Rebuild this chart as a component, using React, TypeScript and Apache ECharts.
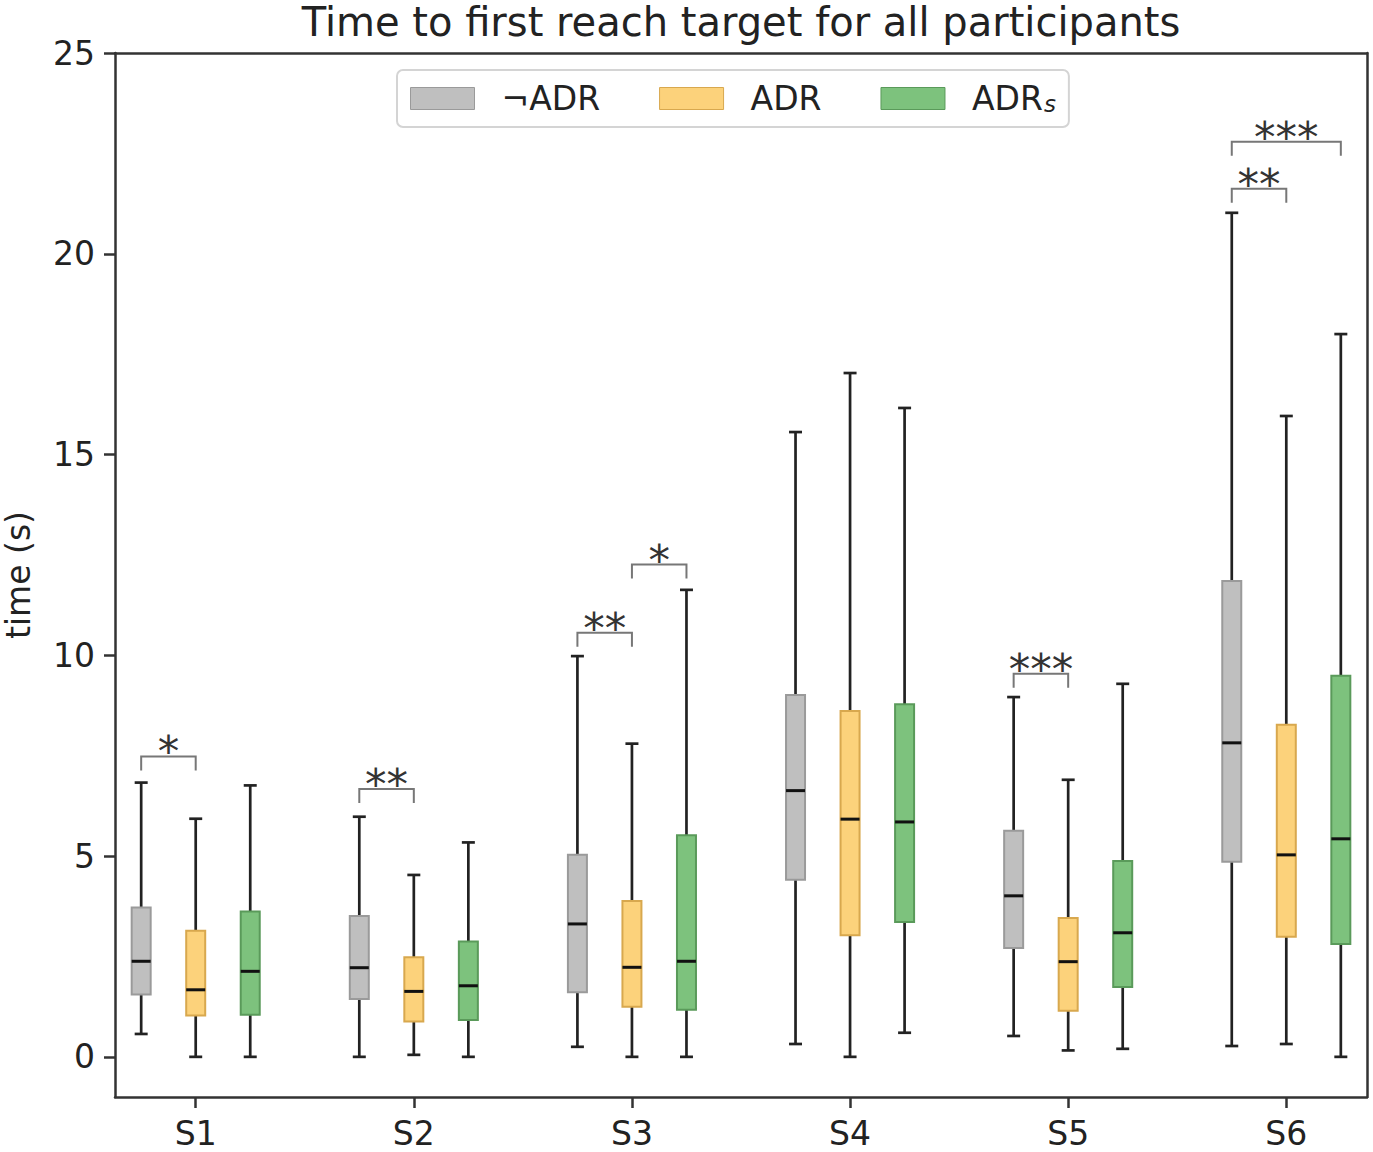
import React, { useEffect, useRef } from "react";
import * as echarts from "echarts";

const categories = ["S1", "S2", "S3", "S4", "S5", "S6"];
const seriesNames = ["¬ADR", "ADR", "ADRs"];
// [min, q1, median, q3, max]
const notADR = [
  [0.57, 1.55, 2.38, 3.72, 6.83],
  [0.0, 1.44, 2.22, 3.51, 5.98],
  [0.25, 1.61, 3.31, 5.03, 9.98],
  [0.32, 4.41, 6.63, 9.01, 15.56],
  [0.52, 2.71, 4.01, 5.63, 8.96],
  [0.27, 4.86, 7.82, 11.85, 21.02],
];
const adr = [
  [0.0, 1.03, 1.67, 3.14, 5.93],
  [0.05, 0.88, 1.63, 2.48, 4.53],
  [0.0, 1.25, 2.23, 3.88, 7.8],
  [0.0, 3.03, 5.92, 8.61, 17.03],
  [0.16, 1.15, 2.37, 3.46, 6.9],
  [0.32, 2.99, 5.03, 8.27, 15.96],
];
const adrS = [
  [0.0, 1.05, 2.13, 3.62, 6.76],
  [0.0, 0.92, 1.77, 2.87, 5.34],
  [0.0, 1.17, 2.38, 5.52, 11.63],
  [0.6, 3.36, 5.85, 8.78, 16.16],
  [0.2, 1.74, 3.09, 4.88, 9.29],
  [0.0, 2.81, 5.43, 9.49, 18.0],
];
const yTicks = [0, 5, 10, 15, 20, 25];
// significance brackets: [category index, from series, to series, bracket height, label]
const sigCategory = [0, 1, 2, 2, 4, 5, 5];
const sigFrom = [0, 0, 0, 1, 0, 0, 0];
const sigTo = [1, 1, 1, 2, 1, 1, 2];
const sigHeight = [7.48, 6.67, 10.56, 12.26, 9.54, 21.62, 22.79];
const sigLabel = ["*", "**", "**", "*", "***", "**", "***"];

const OFFSETS = [-0.25, 0, 0.25];
const FILLS = ["#bfbfbf", "#fcd27b", "#7dc27d"];
const EDGES = ["#9a9a9a", "#d8a84e", "#5a9a5a"];
const FONT = "DejaVu Sans";
const INK = "#222222";

function boxSeries(name: string, values: number[][], k: number) {
  return {
    type: "custom",
    name,
    itemStyle: { color: FILLS[k], borderColor: EDGES[k] },
    encode: { x: 0, y: [1, 2, 3, 4, 5] },
    data: values.map((v, i) => [i + 1 + OFFSETS[k], ...v]),
    renderItem: (params: any, api: any) => {
      const x = api.value(0);
      const pMin = api.coord([x, api.value(1)]);
      const pQ1 = api.coord([x, api.value(2)]);
      const pMed = api.coord([x, api.value(3)]);
      const pQ3 = api.coord([x, api.value(4)]);
      const pMax = api.coord([x, api.value(5)]);
      const cx = pMed[0];
      const half = 9.5;
      const cap = 6.5;
      const lineStyle = { stroke: INK, lineWidth: 2.7 };
      return {
        type: "group",
        children: [
          { type: "line", shape: { x1: cx, y1: pQ3[1], x2: cx, y2: pMax[1] }, style: lineStyle },
          { type: "line", shape: { x1: cx, y1: pQ1[1], x2: cx, y2: pMin[1] }, style: lineStyle },
          { type: "line", shape: { x1: cx - cap, y1: pMax[1], x2: cx + cap, y2: pMax[1] }, style: lineStyle },
          { type: "line", shape: { x1: cx - cap, y1: pMin[1], x2: cx + cap, y2: pMin[1] }, style: lineStyle },
          {
            type: "rect",
            shape: { x: cx - half, y: pQ3[1], width: half * 2, height: pQ1[1] - pQ3[1] },
            style: { fill: FILLS[k], stroke: EDGES[k], lineWidth: 2 },
          },
          {
            type: "line",
            shape: { x1: cx - half, y1: pMed[1], x2: cx + half, y2: pMed[1] },
            style: { stroke: "#111111", lineWidth: 3 },
          },
        ],
      };
    },
  };
}

export default function App() {
  const ref = useRef<HTMLDivElement>(null);
  useEffect(() => {
    if (!ref.current) return;
    const chart = echarts.init(ref.current, undefined, { renderer: "svg" });
    const sigData = sigCategory.map((c, i) => [
      c + 1 + OFFSETS[sigFrom[i]],
      c + 1 + OFFSETS[sigTo[i]],
      sigHeight[i],
    ]);
    const axisLine = { show: true, lineStyle: { color: "#333333", width: 2.5 } };
    const option: any = {
      animation: false,
      backgroundColor: "#ffffff",
      textStyle: { fontFamily: FONT },
      grid: {
        left: 115,
        right: 6,
        top: 53,
        bottom: 55,
        containLabel: false,
        outerBoundsMode: "none",
      },
      graphic: [
        {
          type: "text",
          x: 741,
          y: 22,
          style: {
            text: "Time to first reach target for all participants",
            font: `40px '${FONT}'`,
            lineHeight: 30,
            fill: INK,
            textAlign: "center",
            textVerticalAlign: "middle",
          },
        },
      ],
      legend: {
        left: 397,
        top: 70,
        padding: [12, 13, 12, 13],
        itemGap: 59,
        itemWidth: 64,
        itemHeight: 22,
        icon: "rect",
        backgroundColor: "#ffffff",
        borderColor: "#d4d4d4",
        borderWidth: 2,
        borderRadius: 6,
        selectedMode: false,
        data: seriesNames.map((n, k) => ({
          name: n,
          itemStyle: { color: FILLS[k], borderColor: EDGES[k], borderWidth: 1 },
        })),
        formatter: (name: string) => (name === "ADRs" ? "{m|ADR}{s|s}" : "{m|" + name + "}"),
        textStyle: {
          fontFamily: FONT,
          color: INK,
          fontSize: 33,
          padding: [0, 0, 0, 22],
          rich: {
            m: { fontFamily: FONT, fontSize: 33, color: INK, lineHeight: 33, verticalAlign: "bottom" },
            s: {
              fontFamily: FONT,
              fontSize: 23,
              fontStyle: "italic",
              color: INK,
              lineHeight: 13,
              verticalAlign: "bottom",
              padding: [0, 0, 0, 1],
            },
          },
        },
      },
      xAxis: [
        {
          type: "value",
          min: 0.63,
          max: 6.37,
          position: "bottom",
          axisLine: { ...axisLine, onZero: false },
          splitLine: { show: false },
          axisTick: {
            show: true,
            length: 11,
            lineStyle: { color: "#333333", width: 2.5 },
            customValues: [1, 2, 3, 4, 5, 6],
          },
          axisLabel: {
            show: true,
            margin: 20,
            fontSize: 33,
            fontFamily: FONT,
            color: INK,
            customValues: [1, 2, 3, 4, 5, 6],
            formatter: (v: number) => categories[Math.round(v) - 1] ?? "",
          },
        },
        {
          type: "value",
          min: 0.63,
          max: 6.37,
          position: "top",
          axisLine: { ...axisLine, onZero: false },
          axisTick: { show: false },
          axisLabel: { show: false },
          splitLine: { show: false },
        },
      ],
      yAxis: [
        {
          type: "value",
          min: -1,
          max: 25,
          position: "left",
          name: "time (s)",
          nameLocation: "middle",
          nameRotate: 90,
          nameGap: 82,
          nameTextStyle: { fontSize: 33, fontFamily: FONT, color: INK, lineHeight: 30 },
          axisLine: { ...axisLine, onZero: false },
          splitLine: { show: false },
          axisTick: {
            show: true,
            length: 11,
            lineStyle: { color: "#333333", width: 2.5 },
            customValues: yTicks,
          },
          axisLabel: {
            show: true,
            margin: 20,
            fontSize: 33,
            fontFamily: FONT,
            color: INK,
            customValues: yTicks,
          },
        },
        {
          type: "value",
          min: -1,
          max: 25,
          position: "right",
          axisLine: { ...axisLine, onZero: false },
          axisTick: { show: false },
          axisLabel: { show: false },
          splitLine: { show: false },
        },
      ],
      series: [
        boxSeries(seriesNames[0], notADR, 0),
        boxSeries(seriesNames[1], adr, 1),
        boxSeries(seriesNames[2], adrS, 2),
        {
          type: "custom",
          name: "sig",
          silent: true,
          encode: { x: [0, 1], y: 2 },
          data: sigData,
          renderItem: (params: any, api: any) => {
            const i = params.dataIndex;
            const p1 = api.coord([api.value(0), api.value(2)]);
            const p2 = api.coord([api.value(1), api.value(2)]);
            const drop = 14;
            return {
              type: "group",
              children: [
                {
                  type: "polyline",
                  shape: {
                    points: [
                      [p1[0], p1[1] + drop],
                      [p1[0], p1[1]],
                      [p2[0], p2[1]],
                      [p2[0], p2[1] + drop],
                    ],
                  },
                  style: { stroke: "#777777", lineWidth: 2, fill: "none" },
                },
                {
                  type: "text",
                  x: (p1[0] + p2[0]) / 2,
                  y: p1[1] - 5,
                  style: {
                    text: sigLabel[i],
                    font: `43px '${FONT}'`,
                    fill: "#333333",
                    textAlign: "center",
                    textVerticalAlign: "middle",
                  },
                },
              ],
            };
          },
        },
      ],
    };
    chart.setOption(option);
    return () => chart.dispose();
  }, []);
  return (
    <div
      ref={ref}
      style={{ position: "fixed", left: 0, top: 0, width: 1373, height: 1152 }}
    />
  );
}
